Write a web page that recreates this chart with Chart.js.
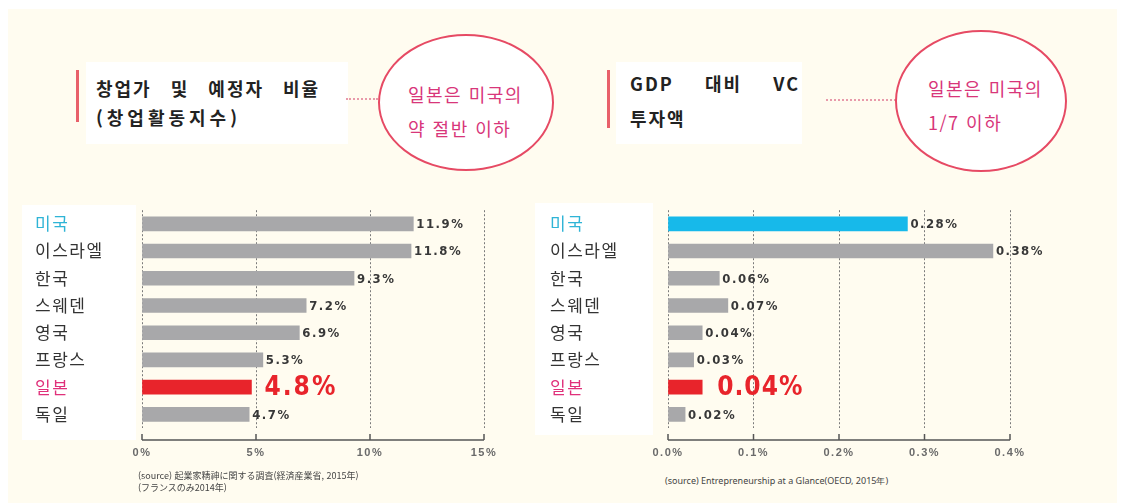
<!DOCTYPE html>
<html lang="ko">
<head>
<meta charset="utf-8">
<title>창업가 및 예정자 비율 / GDP 대비 VC 투자액</title>
<script src="https://cdn.jsdelivr.net/npm/chart.js@4/dist/chart.umd.min.js"></script>
<style>
  body { margin: 0; width: 1125px; height: 503px; background: #fff; overflow: hidden;
         font-family: "Noto Sans CJK KR", sans-serif; }
  .abs { position: absolute; }
  #page { left: 8px; top: 9px; width: 1109px; height: 494px; background: #fffcf0; }
  .white { background: #fff; }
  .redbar { width: 3px; background: #e8606a; }
  .title { font-weight: bold; font-size: 18px; color: #222; letter-spacing: 2px; word-spacing: 12px;
           line-height: 22px; white-space: nowrap; }
  .dots { border-top: 2px dotted #e89aaa; height: 0; }
  .ring { border: 2px solid #e64a64; border-radius: 50%; background: #fff; box-sizing: border-box; }
  .note { color: #d8367a; font-size: 18px; line-height: 20px; letter-spacing: 1.5px; white-space: nowrap; }
  .src { font-size: 9px; color: #444; line-height: 12px; white-space: nowrap; font-family: "Noto Sans CJK JP", sans-serif; }
  canvas { position: absolute; }
</style>
</head>
<body>
<div id="page" class="abs"></div>

<!-- left heading -->
<div class="abs white" style="left:86px;top:62px;width:262px;height:82px"></div>
<div class="abs redbar" style="left:76px;top:70px;height:52px"></div>
<div class="abs title" style="left:96px;top:77px">창업가 및 예정자 비율</div>
<div class="abs title" style="left:96px;top:106px;letter-spacing:4px">(창업활동지수)</div>
<div class="abs dots" style="left:346px;top:98px;width:32px"></div>
<div class="abs ring" style="left:378px;top:34px;width:176px;height:137px"></div>
<div class="abs note" style="left:408px;top:84px">일본은 미국의</div>
<div class="abs note" style="left:408px;top:118px">약 절반 이하</div>

<!-- right heading -->
<div class="abs white" style="left:616px;top:62px;width:186px;height:82px"></div>
<div class="abs redbar" style="left:607px;top:70px;height:58px"></div>
<div class="abs title" style="left:630px;top:72px;width:170px;display:flex;justify-content:space-between;letter-spacing:2px"><span>GDP</span><span>대비</span><span>VC</span></div>
<div class="abs title" style="left:630px;top:107px;letter-spacing:2px">투자액</div>
<div class="abs dots" style="left:826px;top:99px;width:70px"></div>
<div class="abs ring" style="left:895px;top:30px;width:172px;height:142px"></div>
<div class="abs note" style="left:928px;top:78px">일본은 미국의</div>
<div class="abs note" style="left:928px;top:112px">1/7 이하</div>

<!-- label columns -->
<div class="abs white" style="left:22px;top:205px;width:114px;height:235px"></div>
<div class="abs white" style="left:535px;top:203px;width:118px;height:232px"></div>

<canvas id="startup" width="510" height="270" style="left:22px;top:200px"></canvas>
<canvas id="vc" width="540" height="270" style="left:535px;top:200px"></canvas>

<div class="abs src" style="left:138px;top:470px">(source) 起業家精神に関する調査(経済産業省, 2015年)<br>(フランスのみ2014年)</div>
<div class="abs src" style="left:665px;top:475px;font-family:'Noto Sans',sans-serif">(source) Entrepreneurship at a Glance(OECD, 2015年)</div>

<script>
let countries = ['미국', '이스라엘', '한국', '스웨덴', '영국', '프랑스', '일본', '독일'];
let startupRate = [11.9, 11.8, 9.3, 7.2, 6.9, 5.3, 4.8, 4.7];
let vcShare = [0.28, 0.38, 0.06, 0.07, 0.04, 0.03, 0.04, 0.02];
let startupTicks = ['0%', '5%', '10%', '15%'];
let vcTicks = ['0.0%', '0.1%', '0.2%', '0.3%', '0.4%'];

let gray = '#a8a8aa';
let red = '#e8242b';
let cyan = '#17b9ea';
let labelColors = ['#2fb4d6', '#333', '#333', '#333', '#333', '#333', '#e0307a', '#333'];

// bar value text at the end of each bar
let valueLabels = {
  id: 'valueLabels',
  afterDatasetsDraw(chart, args, opts) {
    let ctx = chart.ctx;
    chart.getDatasetMeta(0).data.forEach(function (bar, i) {
      let big = i === opts.highlight;
      ctx.save();
      ctx.letterSpacing = big ? opts.bigSpacing : '1.5px';
      ctx.font = big ? 'bold 26px "DejaVu Sans Condensed"' : 'bold 13px "DejaVu Sans Condensed"';
      ctx.fillStyle = big ? red : '#383838';
      ctx.textBaseline = 'middle';
      ctx.fillText(opts.labels[i], bar.x + (big ? opts.bigGap : 3), bar.y + 1);
      ctx.restore();
    });
  }
};

// axis line sitting a bit below the bars, with small upward ticks
let bottomAxis = {
  id: 'bottomAxis',
  beforeDraw(chart) { chart.ctx.letterSpacing = '1.5px'; },
  beforeDatasetsDraw(chart) { chart.ctx.letterSpacing = '0px'; },
  afterDraw(chart) {
    let x = chart.scales.x;
    let ctx = chart.ctx;
    let y = chart.chartArea.bottom + 12;
    ctx.save();
    ctx.strokeStyle = '#555';
    ctx.lineWidth = 1.5;
    ctx.beginPath();
    ctx.moveTo(x.getPixelForValue(x.min), y);
    ctx.lineTo(x.getPixelForValue(x.max), y);
    x.ticks.forEach(function (t) {
      let px = x.getPixelForValue(t.value);
      ctx.moveTo(px, y);
      ctx.lineTo(px, y - 6);
    });
    ctx.stroke();
    ctx.restore();
  }
};

function makeChart(id, values, colors, max, step, tickText, labels, pad, yWidth, bigGap, bigSpacing) {
  return new Chart(document.getElementById(id), {
    type: 'bar',
    data: {
      labels: countries,
      datasets: [{ data: values, backgroundColor: colors, barThickness: 14 }]
    },
    options: {
      indexAxis: 'y',
      responsive: false,
      animation: false,
      devicePixelRatio: 1,
      layout: { padding: pad },
      plugins: {
        legend: { display: false },
        tooltip: { enabled: false },
        valueLabels: { labels: labels, highlight: 6, bigGap: bigGap, bigSpacing: bigSpacing }
      },
      scales: {
        x: {
          min: 0, max: max,
          afterFit(s) { s.height = 42; },
          ticks: {
            stepSize: step,
            padding: 18,
            color: '#6a6a6a',
            font: { family: 'Liberation Sans', size: 11, weight: 'bold' },
            callback: function (v, i) { return tickText[i]; }
          },
          grid: { color: '#7a7a7a', lineWidth: 1, drawTicks: false },
          border: { display: false, dash: [2, 2] }
        },
        y: {
          afterFit(s) { s.width = yWidth; },
          ticks: {
            crossAlign: 'far',
            padding: 0,
            color: function (c) { return labelColors[c.index]; },
            font: { family: 'Noto Sans CJK KR', size: 17 }
          },
          grid: { display: false },
          border: { display: false }
        }
      }
    },
    plugins: [valueLabels, bottomAxis]
  });
}

makeChart('startup', startupRate,
  [gray, gray, gray, gray, gray, gray, red, gray],
  15, 5, startupTicks,
  startupRate.map(function (v) { return v.toFixed(1) + '%'; }),
  { left: 13, top: 5, right: 48, bottom: 0 }, 107, 13, '2px');

makeChart('vc', vcShare,
  [cyan, gray, gray, gray, gray, gray, red, gray],
  0.4, 0.1, vcTicks,
  vcShare.map(function (v) { return v.toFixed(2) + '%'; }),
  { left: 15, top: 3, right: 65, bottom: 0 }, 118, 15, '1px');
</script>
</body>
</html>
